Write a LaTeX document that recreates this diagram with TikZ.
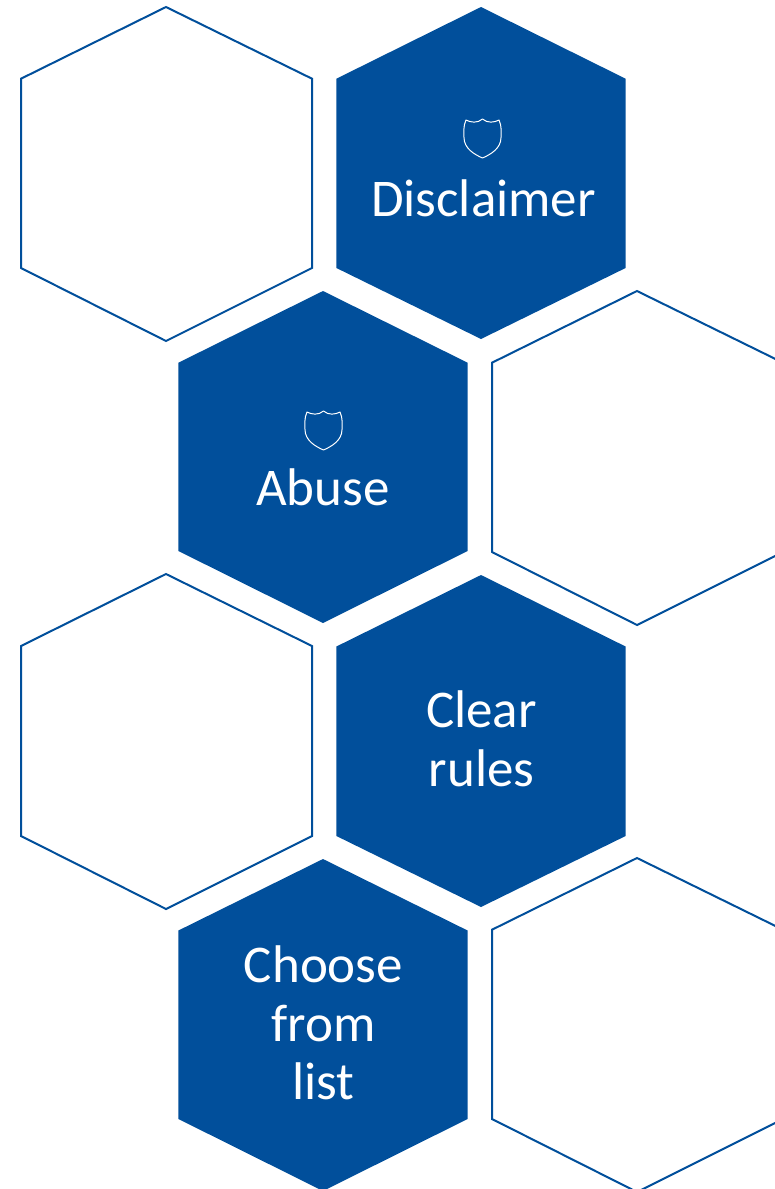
\documentclass[tikz,border=0pt]{standalone}
\usepackage{fontspec}
\setmainfont{Carlito}
\definecolor{hexblue}{HTML}{014F9B}
\newcommand{\hexpath}[7]{(#1,#3) -- (#2,#4) -- (#2,#5) -- (#1,#6) -- (#7,#5) -- (#7,#4) -- cycle}
\tikzset{
  x=1pt,y=-1pt,
  hexfill/.style={fill=hexblue,draw=none},
  hexline/.style={draw=hexblue,fill=white,line width=2pt,line join=miter},
  hextext/.style={text=white,font=\fontsize{53}{58}\selectfont,inner sep=0pt,anchor=base,align=center},
  shieldicon/.pic={
    \draw[white,line width=1pt,line join=round]
      (-16.5,-18.5) .. controls (-12,-16) and (-5,-15) .. (0,-19.5)
      .. controls (5,-15) and (12,-16) .. (16.5,-18.5)
      .. controls (19.5,-12) and (18.5,-6) .. (18.5,-1)
      .. controls (18.5,10) and (8,16) .. (0,19.5)
      .. controls (-8,16) and (-18.5,10) .. (-18.5,-1)
      .. controls (-18.5,-6) and (-19.5,-12) .. (-16.5,-18.5) -- cycle;
  }
}
\begin{document}
\begin{tikzpicture}
\useasboundingbox (0,0) rectangle (775,1189);
\path[hexline] \hexpath{166}{312}{7}{78.7}{268}{341}{21};
\path[hexline] \hexpath{637}{783}{291}{362.7}{552}{625}{492};
\path[hexline] \hexpath{166}{312}{574}{646}{836}{909}{21};
\path[hexline] \hexpath{637}{783}{858}{929.7}{1119}{1192}{492};
\path[hexfill] \hexpath{481}{625.6}{7}{78.7}{268}{339}{336.4};
\path[hexfill] \hexpath{323}{467.6}{291}{362.7}{551}{623}{178.4};
\path[hexfill] \hexpath{481}{625.6}{575}{646.5}{836}{907}{336.4};
\path[hexfill] \hexpath{323}{467.6}{859}{930.5}{1119}{1191}{178.4};
\pic at (482.5,138.5) {shieldicon};
\pic at (323.5,430.5) {shieldicon};
\node[hextext] (disclaimer) at (483.5,216.8) {Disclaimer};
\node[hextext] (abuse) at (323,505.8) {Abuse};
\node[hextext] (clear) at (481.5,727.8) {Clear};
\node[hextext] (rules) at (481.5,786.8) {rules};
\node[hextext] (choose) at (323.5,982.8) {Choose};
\node[hextext] (from) at (323.5,1041.8) {from};
\node[hextext] (list) at (323.5,1099.8) {list};
\end{tikzpicture}
\end{document}
